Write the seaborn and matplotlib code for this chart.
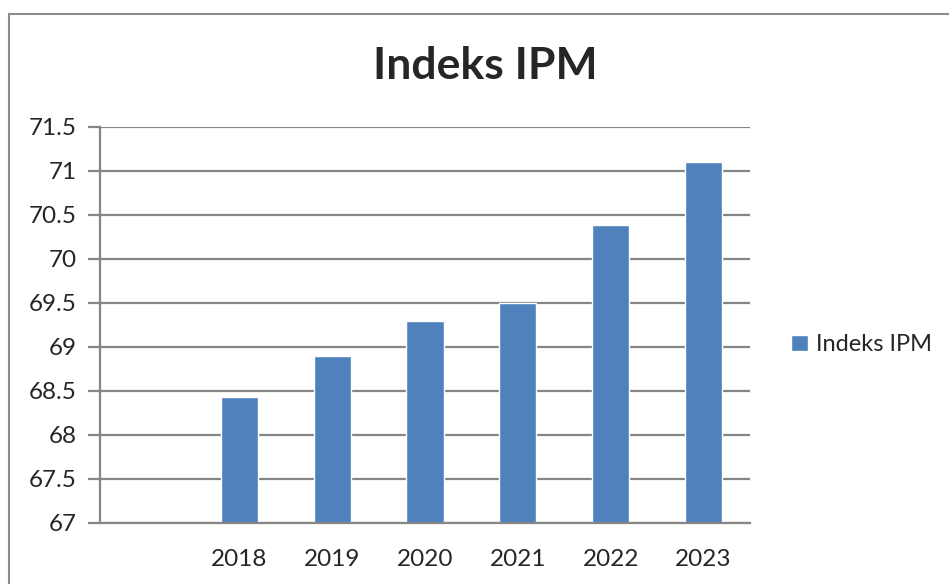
import pandas as pd
import matplotlib.pyplot as plt
import seaborn as sns
from matplotlib.patches import Rectangle

tahun = ['2018', '2019', '2020', '2021', '2022', '2023']
ipm = [68.43, 68.90, 69.30, 69.50, 70.39, 71.10]
kategori = [''] + tahun
yticks = [67, 67.5, 68, 68.5, 69, 69.5, 70, 70.5, 71, 71.5]

df = pd.DataFrame({'tahun': tahun, 'ipm': ipm, 'seri': 'Indeks IPM'})

sns.set_style('white')
plt.rcParams['font.family'] = ['Lato', 'DejaVu Sans']
grey = '#868686'

fig = plt.figure(figsize=(9.49, 5.84), dpi=100)
ax = fig.add_axes([100/949, 61/584, 650/949, 396/584])

sns.barplot(data=df, x='tahun', y='ipm', hue='seri', order=kategori,
            palette=['#4F81BD'], saturation=1, width=0.4, ax=ax, legend=True)

ax.set_ylim(67, 71.5)
ax.set_xlim(-0.5, 6.5)
ax.set_yticks(yticks)
ax.set_yticklabels([f'{v:g}' for v in yticks], fontsize=17.5)
ax.set_xlabel('')
ax.set_ylabel('')
ax.yaxis.grid(True, color=grey, linewidth=1.6)
ax.set_axisbelow(True)

ax.set_xticks(range(len(kategori)))
ax.set_xticklabels(kategori, fontsize=17.5)
ax.tick_params(axis='x', which='major', length=0, pad=19)
ax.set_xticks([i - 0.5 for i in range(len(kategori) + 1)], minor=True)
ax.tick_params(axis='x', which='minor', length=7, color=grey, width=1.6)
ax.tick_params(axis='y', length=9, color=grey, width=1.6, pad=8, left=True)

for s in ['top', 'right']:
    ax.spines[s].set_visible(False)
for s in ['left', 'bottom']:
    ax.spines[s].set_color(grey)
    ax.spines[s].set_linewidth(1.6)

leg = ax.get_legend()
leg.remove()
fig.legend(handles=leg.legend_handles, labels=['Indeks IPM'], loc='center left',
           bbox_to_anchor=(770/949, 1 - 345/584), frameon=False, fontsize=17,
           handlelength=0.7, handleheight=0.7, handletextpad=0.35)

fig.text(485/949, 1 - 66/584, 'Indeks IPM', ha='center', va='center',
         fontsize=32, fontweight='bold')

fig.patches.append(Rectangle((9/949, -0.1), 1.2, 1 - 14/584 + 0.1,
                             transform=fig.transFigure, fill=False,
                             edgecolor='#8c8c8c', linewidth=1.5))

fig.savefig('out.png', dpi=100)
